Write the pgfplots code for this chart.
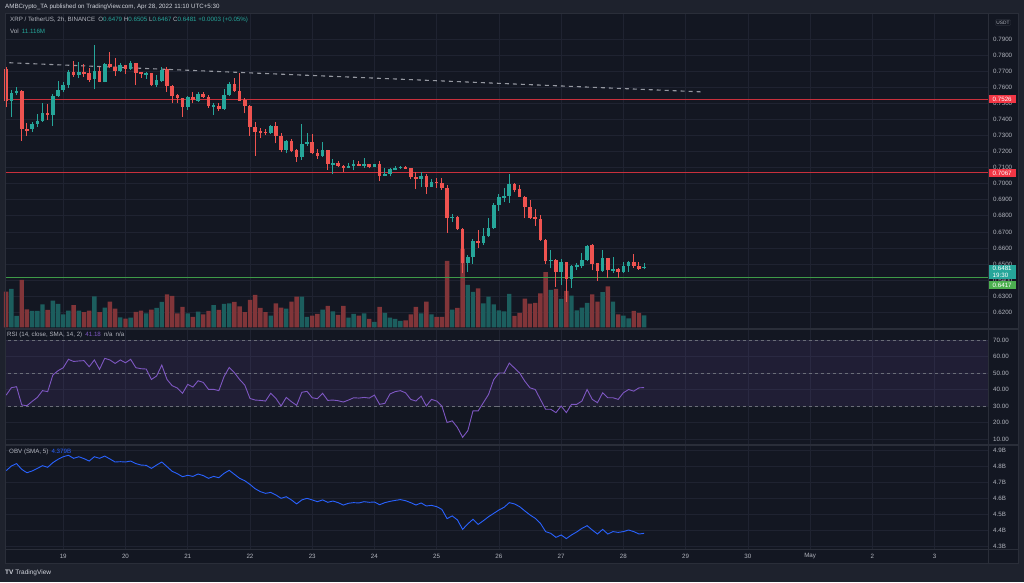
\documentclass[border=0pt]{standalone}
\usepackage{pgfplots}
\usepackage{pgfplotstable}
\pgfplotsset{compat=1.18}
\usepackage{fontspec}
\setmainfont{Liberation Sans}

\definecolor{bgc}{HTML}{131722}
\definecolor{outc}{HTML}{1E222D}
\definecolor{gridc}{HTML}{1F2331}
\definecolor{sepc}{HTML}{2A2E39}
\definecolor{txtc}{HTML}{B2B5BE}
\definecolor{hdrc}{HTML}{D1D4DC}
\definecolor{upc}{HTML}{26A69A}
\definecolor{dnc}{HTML}{EF5350}
\definecolor{vupc}{HTML}{1C5E5E}
\definecolor{vdnc}{HTML}{813539}
\definecolor{levelred}{HTML}{C8303C}
\definecolor{levelgreen}{HTML}{3E9A48}
\definecolor{redbox}{HTML}{F23645}
\definecolor{grnbox}{HTML}{4CAF50}
\definecolor{rsic}{HTML}{7E57C2}
\definecolor{obvc}{HTML}{2962FF}
\definecolor{trendc}{HTML}{9598A1}
\definecolor{dashc}{HTML}{6A6D78}

\newcommand{\sm}{\fontsize{6.2}{7}\selectfont}

% 2h candles, k = bar index (k=11 is 19 Apr, 12 bars a day)
\pgfplotstableread{
k o h l c v
1 0.7518 0.7584 0.7418 0.7566 35.7
2 0.7566 0.7605 0.7553 0.7576 10.5
5 0.7339 0.7383 0.7325 0.7372 15.2
6 0.7372 0.7433 0.7356 0.7391 15.2
7 0.7391 0.7501 0.7387 0.7439 21.4
9 0.7429 0.7557 0.7362 0.7547 24.8
10 0.7547 0.7640 0.7543 0.7584 21.7
11 0.7584 0.7636 0.7570 0.7615 12.1
12 0.7615 0.7709 0.7599 0.7699 15.5
14 0.7678 0.7757 0.7657 0.7694 15.5
17 0.7651 0.7865 0.7588 0.7703 28.8
19 0.7636 0.7750 0.7632 0.7744 18.3
22 0.7705 0.7750 0.7699 0.7740 9.3
24 0.7715 0.7765 0.7711 0.7750 9.0
27 0.7682 0.7694 0.7653 0.7688 13.0
29 0.7615 0.7678 0.7605 0.7647 18.0
30 0.7640 0.7726 0.7636 0.7711 23.6
35 0.7480 0.7547 0.7460 0.7541 13.0
37 0.7518 0.7570 0.7512 0.7559 14.6
40 0.7483 0.7505 0.7429 0.7487 20.5
42 0.7468 0.7588 0.7460 0.7553 21.7
43 0.7553 0.7636 0.7549 0.7620 22.3
51 0.7316 0.7366 0.7310 0.7362 10.9
54 0.7210 0.7273 0.7190 0.7267 17.4
57 0.7169 0.7372 0.7148 0.7246 28.5
58 0.7246 0.7314 0.7237 0.7258 9.6
61 0.7175 0.7262 0.7169 0.7208 16.4
63 0.7121 0.7154 0.7059 0.7127 14.9
66 0.7100 0.7127 0.7096 0.7111 9.0
67 0.7111 0.7146 0.7084 0.7125 12.4
69 0.7113 0.7159 0.7100 0.7123 13.0
71 0.7107 0.7125 0.7104 0.7123 5.0
73 0.7050 0.7096 0.7046 0.7061 13.3
74 0.7061 0.7100 0.7046 0.7090 9.0
75 0.7090 0.7111 0.7084 0.7100 7.8
76 0.7100 0.7111 0.7094 0.7104 5.9
80 0.7032 0.7071 0.6982 0.7050 13.0
82 0.6982 0.7032 0.6980 0.7011 12.1
86 0.6789 0.6812 0.6764 0.6795 16.4
89 0.6506 0.6556 0.6452 0.6542 39.4
90 0.6542 0.6654 0.6500 0.6646 32.9
92 0.6633 0.6722 0.6618 0.6675 22.3
93 0.6675 0.6789 0.6670 0.6722 28.5
94 0.6722 0.6878 0.6718 0.6866 21.4
95 0.6866 0.6936 0.6832 0.6916 15.8
96 0.6916 0.6972 0.6888 0.6924 14.9
97 0.6924 0.7061 0.6882 0.7001 31.0
105 0.6521 0.6587 0.6473 0.6523 34.7
107 0.6450 0.6531 0.6369 0.6510 26.4
109 0.6409 0.6494 0.6353 0.6490 29.5
110 0.6488 0.6508 0.6463 0.6490 15.8
111 0.6490 0.6571 0.6473 0.6523 18.3
112 0.6523 0.6618 0.6517 0.6614 22.6
115 0.6459 0.6587 0.6452 0.6535 32.6
117 0.6463 0.6546 0.6446 0.6467 23.9
119 0.6450 0.6515 0.6446 0.6488 10.9
120 0.6488 0.6521 0.6452 0.6513 8.4
123 0.6479 0.6505 0.6467 0.6481 11.1
}\up

\pgfplotstableread{
k o h l c v
0 0.7715 0.7730 0.7476 0.7518 33.2
3 0.7576 0.7584 0.7267 0.7341 44.0
4 0.7341 0.7377 0.7300 0.7335 16.7
8 0.7439 0.7495 0.7397 0.7429 16.1
13 0.7699 0.7765 0.7667 0.7678 20.5
15 0.7694 0.7744 0.7667 0.7688 14.0
16 0.7688 0.7719 0.7636 0.7647 15.5
18 0.7705 0.7726 0.7632 0.7636 14.0
20 0.7744 0.7823 0.7719 0.7726 23.9
21 0.7730 0.7782 0.7674 0.7705 17.4
23 0.7738 0.7740 0.7682 0.7715 8.1
25 0.7750 0.7752 0.7615 0.7692 14.3
26 0.7694 0.7699 0.7661 0.7684 15.5
28 0.7688 0.7692 0.7611 0.7615 16.4
31 0.7713 0.7730 0.7574 0.7609 30.7
32 0.7609 0.7613 0.7501 0.7547 29.1
33 0.7551 0.7557 0.7501 0.7532 13.0
34 0.7532 0.7537 0.7418 0.7480 18.9
36 0.7541 0.7570 0.7501 0.7520 9.6
38 0.7559 0.7570 0.7532 0.7543 12.1
39 0.7543 0.7553 0.7474 0.7485 15.2
41 0.7485 0.7501 0.7453 0.7468 16.1
44 0.7620 0.7657 0.7574 0.7578 23.6
45 0.7578 0.7688 0.7516 0.7518 19.5
46 0.7520 0.7532 0.7439 0.7485 14.0
47 0.7485 0.7491 0.7300 0.7356 25.4
48 0.7354 0.7383 0.7175 0.7325 30.1
49 0.7325 0.7350 0.7283 0.7321 18.0
50 0.7323 0.7339 0.7304 0.7316 14.0
52 0.7362 0.7383 0.7252 0.7300 22.3
53 0.7300 0.7314 0.7196 0.7210 18.3
55 0.7267 0.7279 0.7196 0.7206 23.9
56 0.7210 0.7215 0.7138 0.7169 28.5
59 0.7258 0.7310 0.7183 0.7190 10.9
60 0.7192 0.7217 0.7154 0.7175 12.4
62 0.7208 0.7210 0.7086 0.7121 19.8
64 0.7127 0.7144 0.7107 0.7113 11.5
65 0.7113 0.7117 0.7071 0.7100 19.8
68 0.7125 0.7142 0.7111 0.7113 10.9
70 0.7123 0.7125 0.7096 0.7107 7.8
72 0.7123 0.7144 0.7017 0.7050 18.9
77 0.7104 0.7109 0.7092 0.7096 6.5
78 0.7096 0.7100 0.7028 0.7042 12.1
79 0.7042 0.7071 0.6967 0.7032 18.9
81 0.7050 0.7059 0.6938 0.6982 23.9
83 0.7011 0.7034 0.6976 0.7007 9.6
84 0.7007 0.7034 0.6963 0.6974 9.6
85 0.6974 0.6992 0.6695 0.6785 61.7
87 0.6795 0.6800 0.6712 0.6716 18.0
88 0.6716 0.6722 0.6442 0.6506 72.9
91 0.6646 0.6712 0.6602 0.6633 36.3
98 0.7001 0.7005 0.6947 0.6963 10.5
99 0.6965 0.6992 0.6916 0.6920 13.3
100 0.6920 0.6924 0.6785 0.6853 26.7
101 0.6855 0.6899 0.6781 0.6787 22.0
102 0.6793 0.6841 0.6739 0.6778 22.6
103 0.6780 0.6805 0.6646 0.6650 31.6
104 0.6650 0.6654 0.6502 0.6521 51.2
106 0.6523 0.6529 0.6359 0.6450 35.7
108 0.6510 0.6515 0.6265 0.6409 33.8
113 0.6616 0.6623 0.6461 0.6500 30.7
114 0.6504 0.6508 0.6394 0.6459 23.9
116 0.6535 0.6540 0.6411 0.6461 38.1
118 0.6469 0.6473 0.6415 0.6450 12.1
121 0.6513 0.6560 0.6477 0.6486 15.2
122 0.6490 0.6515 0.6463 0.6467 13.3
}\dn

\pgfplotstableread{
k r
0 36.6
1 41.1
2 41.7
3 30.6
4 30.2
5 32.8
6 35.2
7 39.3
8 38.7
9 48.8
10 51.4
11 53.2
12 58.3
13 57.0
14 57.3
15 57.5
16 53.8
17 57.9
18 52.2
19 58.9
20 57.9
21 55.8
22 57.9
23 56.2
24 58.3
25 53.2
26 52.6
27 52.4
28 46.1
29 48.2
30 54.8
31 46.1
32 42.3
33 40.9
34 37.7
35 43.1
36 41.5
37 45.3
38 44.3
39 40.1
40 40.1
41 39.3
42 47.8
43 53.4
44 50.2
45 46.1
46 42.7
47 34.6
48 33.6
49 33.4
50 33.0
51 37.7
52 34.6
53 30.0
54 35.2
55 32.6
56 30.4
57 38.3
58 38.9
59 35.0
60 34.4
61 37.7
62 33.4
63 33.6
64 33.2
65 32.4
66 33.6
67 35.0
68 34.8
69 35.2
70 34.8
71 36.6
72 31.0
73 31.6
74 37.3
75 38.7
76 39.3
77 38.0
78 34.0
79 33.0
80 36.0
81 30.0
82 34.0
83 33.0
84 30.0
85 20.0
86 21.0
87 17.0
88 11.0
89 15.0
90 27.0
91 27.0
92 32.0
93 37.0
94 46.0
95 50.0
96 50.0
97 56.0
98 53.0
99 50.0
100 45.0
101 41.0
102 40.0
103 34.0
104 28.0
105 28.0
106 26.0
107 30.0
108 26.0
109 31.0
110 31.0
111 33.0
112 40.0
113 34.0
114 32.0
115 38.0
116 35.0
117 35.0
118 34.0
119 38.0
120 40.0
121 39.0
122 41.0
123 41.18
}\rsi

\pgfplotstableread{
k b
0 4.771
1 4.800
2 4.815
3 4.779
4 4.758
5 4.769
6 4.785
7 4.802
8 4.792
9 4.821
10 4.842
11 4.858
12 4.867
13 4.848
14 4.858
15 4.846
16 4.831
17 4.858
18 4.848
19 4.862
20 4.844
21 4.825
22 4.827
23 4.825
24 4.831
25 4.815
26 4.806
27 4.804
28 4.785
29 4.806
30 4.825
31 4.796
32 4.767
33 4.752
34 4.733
35 4.742
36 4.735
37 4.750
38 4.740
39 4.723
40 4.735
41 4.727
42 4.754
43 4.773
44 4.748
45 4.723
46 4.708
47 4.685
48 4.658
49 4.640
50 4.629
51 4.635
52 4.619
53 4.598
54 4.608
55 4.588
56 4.563
57 4.588
58 4.598
59 4.588
60 4.577
61 4.588
62 4.573
63 4.581
64 4.571
65 4.556
66 4.567
67 4.571
68 4.569
69 4.577
70 4.573
71 4.575
72 4.558
73 4.571
74 4.579
75 4.585
76 4.590
77 4.583
78 4.571
79 4.556
80 4.569
81 4.550
82 4.554
83 4.546
84 4.529
85 4.471
86 4.488
87 4.463
88 4.404
89 4.438
90 4.467
91 4.435
92 4.458
93 4.483
94 4.504
95 4.525
96 4.542
97 4.571
98 4.563
99 4.546
100 4.519
101 4.494
102 4.473
103 4.442
104 4.390
105 4.379
106 4.354
107 4.369
108 4.346
109 4.369
110 4.388
111 4.410
112 4.427
113 4.400
114 4.375
115 4.404
116 4.375
117 4.390
118 4.385
119 4.390
120 4.400
121 4.390
122 4.375
123 4.379
}\obv

\pgfplotstableread{
k p
0.6 0.7754
134.4 0.7572
}\trend

\pgfplotsset{
  pane/.style={
    scale only axis, width=983pt,
    xmin=-0.23, xmax=189.3,
    axis line style={draw=none},
    major tick length=0pt,
    xtick={11,23,35,47,59,71,83,95,107,119,131,143,155,167,179},
    xticklabels={},
    grid=major,
    major grid style={draw=gridc, line width=0.7pt},
    yticklabel pos=right,
    ticklabel style={font=\sm, text=txtc},
    yticklabel style={anchor=west, inner sep=0pt, xshift=5pt},
    /pgf/number format/assume math mode=true,
    clip=false,
  },
  ovl/.style={
    scale only axis, width=983pt,
    xmin=-0.23, xmax=189.3,
    hide axis, clip=false,
  },
  body/.style={draw=none, mark=none,
    error bars/.cd, y dir=both, y explicit, error mark=none,
    error bar style={draw=#1, line width=3.6pt}},
  wick/.style={draw=none, mark=none,
    error bars/.cd, y dir=plus, y explicit, error mark=none,
    error bar style={draw=#1, line width=1pt}},
  % full-width horizontal level, drawn as an x error bar
  hlevel/.style={draw=none, mark=none,
    error bars/.cd, x dir=both, x explicit, error mark=none,
    error bar style={#1}},
}

\begin{document}
\begin{tikzpicture}[x=1pt, y=1pt]
\fill[outc] (0,0) rectangle (1024,582);
\fill[bgc] (5,19) rectangle (1018,569);

% price pane: grid and scale
\begin{axis}[pane, at={(5pt,569pt)}, anchor=north west, height=316pt,
  ymin=0.6095, ymax=0.80639,
  ytick={0.62,0.63,0.64,0.65,0.66,0.67,0.68,0.69,0.70,0.71,0.72,0.73,0.74,0.75,0.76,0.77,0.78,0.79},
  yticklabel={\pgfmathprintnumber[fixed,fixed zerofill,precision=4]{\tick}}]
\addplot[draw=trendc, line width=1.1pt, mark=none, dash pattern=on 4pt off 4pt] table[x=k, y=p] {\trend};
\end{axis}

% volume
\begin{axis}[ovl, at={(5pt,569pt)}, anchor=north west, height=316pt,
  ymin=-1.6, ymax=292.3]
\addplot[ybar, bar width=4.4pt, bar shift=0pt, fill=vupc, draw=none] table[x=k, y=v] {\up};
\addplot[ybar, bar width=4.4pt, bar shift=0pt, fill=vdnc, draw=none] table[x=k, y=v] {\dn};
\end{axis}

% levels and candles
\begin{axis}[ovl, at={(5pt,569pt)}, anchor=north west, height=316pt,
  ymin=0.6095, ymax=0.80639]
\addplot[hlevel={draw=levelred, line width=1pt}] coordinates {(94.535,0.7526) +- (94.765,0) (94.535,0.7067) +- (94.765,0)};
\addplot[hlevel={draw=levelgreen, line width=1pt}] coordinates {(94.535,0.6417) +- (94.765,0)};
\addplot[wick=upc] table[x=k, y=l, y error expr=\thisrow{h}-\thisrow{l}] {\up};
\addplot[wick=dnc] table[x=k, y=l, y error expr=\thisrow{h}-\thisrow{l}] {\dn};
\addplot[body=upc] table[x=k, y expr={(\thisrow{o}+\thisrow{c})/2},
  y error expr={max(abs(\thisrow{c}-\thisrow{o})/2,0.0003)}] {\up};
\addplot[body=dnc] table[x=k, y expr={(\thisrow{o}+\thisrow{c})/2},
  y error expr={max(abs(\thisrow{c}-\thisrow{o})/2,0.0003)}] {\dn};
\node[anchor=west, fill=redbox, text=white, font=\sm, minimum width=28pt, minimum height=8pt, inner sep=0pt] at (axis cs:189.3,0.7526) {0.7526};
\node[anchor=west, fill=redbox, text=white, font=\sm, minimum width=28pt, minimum height=8pt, inner sep=0pt] at (axis cs:189.3,0.7067) {0.7067};
\node[anchor=north west, fill=upc, text=white, font=\sm, minimum width=28pt, inner sep=1pt, align=left, yshift=2pt] at (axis cs:189.3,0.6481) {0.6481\\19:30};
\node[anchor=west, fill=grnbox, text=white, font=\sm, minimum width=28pt, minimum height=8pt, inner sep=0pt, yshift=-7.7pt] at (axis cs:189.3,0.6417) {0.6417};
\end{axis}

% RSI pane
\begin{axis}[pane, at={(5pt,253pt)}, anchor=north west, height=116pt,
  ymin=6.36, ymax=76.67, ytick={10,20,30,40,50,60,70},
  yticklabel={\pgfmathprintnumber[fixed,fixed zerofill,precision=2]{\tick}}]
\addplot[draw=none, fill=rsic, fill opacity=0.12] coordinates {(-0.23,30) (189.3,30) (189.3,70) (-0.23,70)};
\addplot[hlevel={draw=dashc, line width=0.8pt, dash pattern=on 3pt off 3pt}] coordinates {(94.535,70) +- (94.765,0) (94.535,50) +- (94.765,0) (94.535,30) +- (94.765,0)};
\addplot[draw=rsic, mark=none, line width=0.9pt] table[x=k, y=r] {\rsi};
\end{axis}

% OBV pane
\begin{axis}[pane, at={(5pt,137pt)}, anchor=north west, height=104pt,
  ymin=4.28125, ymax=4.93125, ytick={4.3,4.4,4.5,4.6,4.7,4.8,4.9},
  yticklabel={\pgfmathprintnumber[fixed,fixed zerofill,precision=1]{\tick}B},
  xticklabels={19,20,21,22,23,24,25,26,27,28,29,30,May,2,3},
  xticklabel style={anchor=center, yshift=-7pt}]
\addplot[draw=obvc, mark=none, line width=0.9pt] table[x=k, y=b] {\obv};
\end{axis}

% frame and separators
\draw[sepc, line width=0.8pt] (5,19) rectangle (1018,569);
\draw[sepc, line width=0.8pt] (988,19) -- (988,569);
\draw[sepc, line width=1.2pt] (5,253) -- (1018,253);
\draw[sepc, line width=1.2pt] (5,137) -- (1018,137);
\draw[sepc, line width=0.8pt] (5,33) -- (1018,33);

% texts
\node[anchor=west, font=\sm, text=hdrc, inner sep=0pt] at (5,575) {AMBCrypto\_TA published on TradingView.com, Apr 28, 2022 11:10 UTC+5:30};
\node[anchor=west, font=\sm, text=txtc, inner sep=0pt] at (10,562) {XRP / TetherUS, 2h, BINANCE\enspace O\textcolor{upc}{0.6479} H\textcolor{upc}{0.6505} L\textcolor{upc}{0.6467} C\textcolor{upc}{0.6481} \textcolor{upc}{+0.0003 (+0.05\%)}};
\node[anchor=west, font=\sm, text=txtc, inner sep=0pt] at (10,551) {Vol\enspace\textcolor{upc}{11.116M}};
\node[anchor=west, font=\sm, text=txtc, inner sep=0pt] at (7,247) {RSI (14, close, SMA, 14, 2)\enspace\textcolor{rsic}{41.18}\enspace n/a\enspace n/a};
\node[anchor=west, font=\sm, text=txtc, inner sep=0pt] at (9,130) {OBV (SMA, 5)\enspace\textcolor{obvc}{4.379B}};
\node[draw=sepc, rounded corners=1pt, font=\fontsize{4.8}{5}\selectfont, text=txtc, inner sep=1.2pt] at (1003,559.5) {USDT};
\node[anchor=west, font=\fontsize{6.5}{7}\selectfont\bfseries, text=hdrc, inner sep=0pt] at (5,9) {TV\ \mdseries TradingView};

\pgfresetboundingbox
\path[use as bounding box] (0,0) rectangle (1024,582);
\end{tikzpicture}
\end{document}
